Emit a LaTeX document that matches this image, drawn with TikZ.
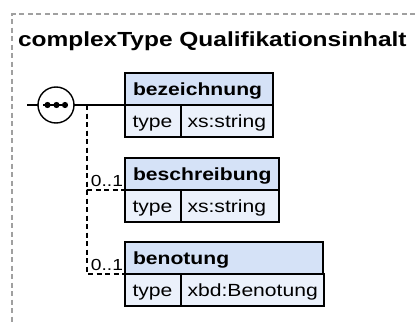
\documentclass[tikz,border=0pt]{standalone}
\usepackage{fontspec}
\usepackage{tikz}
\usetikzlibrary{positioning}
\newfontfamily\diagfont[FakeStretch=1.2]{Liberation Sans}
\definecolor{head_blue}{RGB}{213,226,247}
\definecolor{row_blue}{RGB}{235,241,251}
\definecolor{frame_grey}{RGB}{160,160,160}

\begin{document}
\begin{tikzpicture}
    [
        x=1pt, y=-1pt, node distance=0pt, inner ysep=0pt, outer sep=0pt,
        cell/.style={rectangle, draw=black, line width=1.4pt, minimum height=32pt, align=left, text height=12.4pt, text depth=0pt, font=\diagfont\fontsize{17.6}{21}\selectfont},
        head_cell/.style={cell, fill=head_blue, inner xsep=8pt, anchor=north west, font=\diagfont\bfseries\fontsize{17.6}{21}\selectfont},
        type_cell/.style={cell, fill=row_blue, inner xsep=7.5pt, text width=41pt},
        value_cell/.style={cell, fill=row_blue, inner xsep=6.5pt},
        card_label/.style={inner sep=0pt, anchor=base east, font=\diagfont\fontsize{16}{18}\selectfont},
        seq_node/.style={circle, draw=black, fill=white, line width=1.4pt, minimum size=36pt, inner sep=0pt},
    ]
        \useasboundingbox (0,0) rectangle (415,324) ;
        % frame of the complex type
        \draw[frame_grey, line width=1.3pt, dash pattern=on 5pt off 3.5pt] (415,14) -- (12,14) -- (12,324) ;
        \node[anchor=base west, inner sep=0pt, font=\diagfont\bfseries\fontsize{20.4}{24}\selectfont] (title) at (18,46.7) {complexType Qualifikationsinhalt} ;
        % sequence
        \coordinate (seq_in) at (27,105) ;
        \coordinate (branch) at (87,105) ;
        \node[seq_node] (seq) at (56,105) {} ;
        \draw[line width=1.7pt] ([xshift=-13pt]seq.center) -- ([xshift=12pt]seq.center) ;
        \foreach \dx in {-8.5, 0.5, 9} \fill ([xshift=\dx pt]seq.center) circle (3.1) ;
        % elements
        \node[head_cell, text width=132pt] (bez_head) at (125,73) {bezeichnung} ;
        \node[type_cell, below right=0pt of bez_head.south west, anchor=north west] (bez_type) {type} ;
        \node[value_cell, text width=79pt, right=0pt of bez_type] (bez_value) {xs:string} ;
        \node[head_cell, text width=138pt] (besch_head) at (125,158) {beschreibung} ;
        \node[type_cell, below right=0pt of besch_head.south west, anchor=north west] (besch_type) {type} ;
        \node[value_cell, text width=85pt, right=0pt of besch_type] (besch_value) {xs:string} ;
        \node[head_cell, text width=182pt] (benot_head) at (125,242) {benotung} ;
        \node[type_cell, below right=0pt of benot_head.south west, anchor=north west] (benot_type) {type} ;
        \node[value_cell, text width=130pt, right=0pt of benot_type] (benot_value) {xbd:Benotung} ;
        \node[card_label] (besch_card) at (123,186) {0..1} ;
        \node[card_label] (benot_card) at (123,270) {0..1} ;
        % connectors
        \draw[line width=1.4pt] (seq_in) -- (seq) ;
        \draw[line width=1.4pt] (seq) -- (bez_head.south west) ;
        \draw[line width=1.3pt, dash pattern=on 5pt off 3.5pt] (branch) |- (besch_head.south west) ;
        \draw[line width=1.3pt, dash pattern=on 5pt off 3.5pt] (branch) |- (benot_head.south west) ;
    \end{tikzpicture}
\end{document}
